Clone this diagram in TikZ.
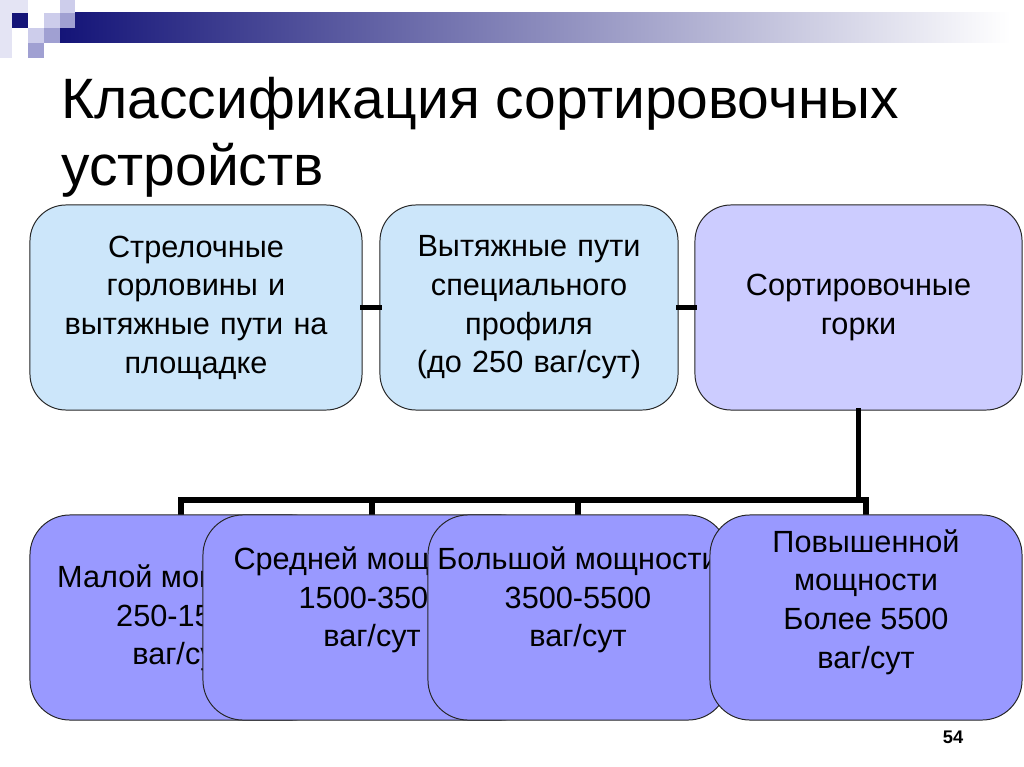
\documentclass[tikz,border=0pt]{standalone}
\usepackage{fontspec}
\setmainfont{Liberation Sans}
\usepackage{xcolor}
\usetikzlibrary{positioning}

\definecolor{topblue}{RGB}{204,230,250}
\definecolor{toplilac}{RGB}{204,204,255}
\definecolor{lowlilac}{RGB}{153,153,255}
\definecolor{sqdark}{RGB}{20,20,120}
\definecolor{sqmid}{RGB}{160,160,210}
\definecolor{sqpale}{RGB}{205,205,235}
\definecolor{sqfaint}{RGB}{228,228,244}

\begin{document}
\begin{tikzpicture}[x=0.025cm, y=-0.025cm,
    topbox/.style={draw=black!85, line width=0.7pt, rounded corners=0.9cm,
        minimum height=5.125cm, inner sep=0pt, align=center,
        font=\fontsize{21.8}{27.5}\selectfont},
    lowbox/.style={draw=black!85, line width=0.7pt, rounded corners=1cm,
        fill=lowlilac, minimum height=5.125cm, inner sep=0pt},
    boxtext/.style={align=center, inner sep=0pt, font=\fontsize{21.8}{27.5}\selectfont},
    link/.style={line width=4pt, line cap=rect}]
    \useasboundingbox (0,0) rectangle (1024,767);

    % header decoration
    \shade[left color=sqdark, middle color=black!30!sqmid, right color=white, shading angle=90]
        (60,13) rectangle (1010,43);
    \fill[sqfaint] (0,0) rectangle (12,58);
    \fill[sqfaint] (12,0) rectangle (28,13);
    \fill[sqdark] (12,13) rectangle (28,28);
    \fill[sqpale] (28,28) rectangle (44,43);
    \fill[sqmid] (28,43) rectangle (44,58);
    \fill[sqpale] (44,13) rectangle (60,28);
    \fill[sqmid] (44,28) rectangle (60,43);
    \fill[sqpale] (60,0) rectangle (75,13);
    \fill[sqmid] (60,13) rectangle (75,28);

    \node[anchor=north west, align=left, inner sep=0pt,
        font=\fontsize{40.5}{47.5}\selectfont] (title) at (61,77)
        {Классификация сортировочных\\устройств};

    % upper row
    \node[topbox, fill=topblue, minimum width=8.3cm, text width=7.9cm] (t1) at (196,307.5)
        {Стрелочные\\горловины  и\\вытяжные пути на\\площадке};
    \node[topbox, fill=topblue, minimum width=7.45cm, text width=7.2cm] (t2) at (529,307.5)
        {Вытяжные пути\\специального\\профиля\\ (до 250 ваг/сут)};
    \node[topbox, fill=toplilac, minimum width=8.175cm, text width=7.8cm] (t3) at (858.5,307.5)
        {Сортировочные\\горки};

    \draw[link] (t1.east) -- (t2.west);
    \draw[link] (t2.east) -- (t3.west);

    % tree to the lower row
    \coordinate (bus) at (0,500);
    \coordinate (b1top) at (181,515);
    \coordinate (b2top) at (372,515);
    \coordinate (b3top) at (578,515);
    \coordinate (b4top) at (866,515);
    \draw[link] (t3.south) -- (t3.south |- bus);
    \draw[link] (b1top |- bus) -- (b4top |- bus);
    \foreach \b in {b1top, b2top, b3top, b4top}
        \draw[link] (\b |- bus) -- (\b);

    % lower row
    \node[lowbox, minimum width=7.55cm] (b1) at (181,617.5) {};
    \node[boxtext] (b1t) at (181,618) {Малой мощности\\250-1500\\ваг/сут};
    \node[lowbox, minimum width=8.45cm] (b2) at (372,617.5) {};
    \node[boxtext] (b2t) at (372,600) {Средней мощности\\1500-3500\\ваг/сут};
    \node[lowbox, minimum width=7.5cm] (b3) at (578,617.5) {};
    \node[boxtext] (b3t) at (578,600) {Большой мощности\\3500-5500\\ваг/сут};
    \node[lowbox, minimum width=7.8cm] (b4) at (866,617.5) {};
    \node[boxtext] (b4t) at (866,602) {Повышенной\\ мощности\\Более 5500\\ваг/сут};

    \node[font=\bfseries\fontsize{13}{15}\selectfont] (page) at (953,737) {54};
\end{tikzpicture}
\end{document}
